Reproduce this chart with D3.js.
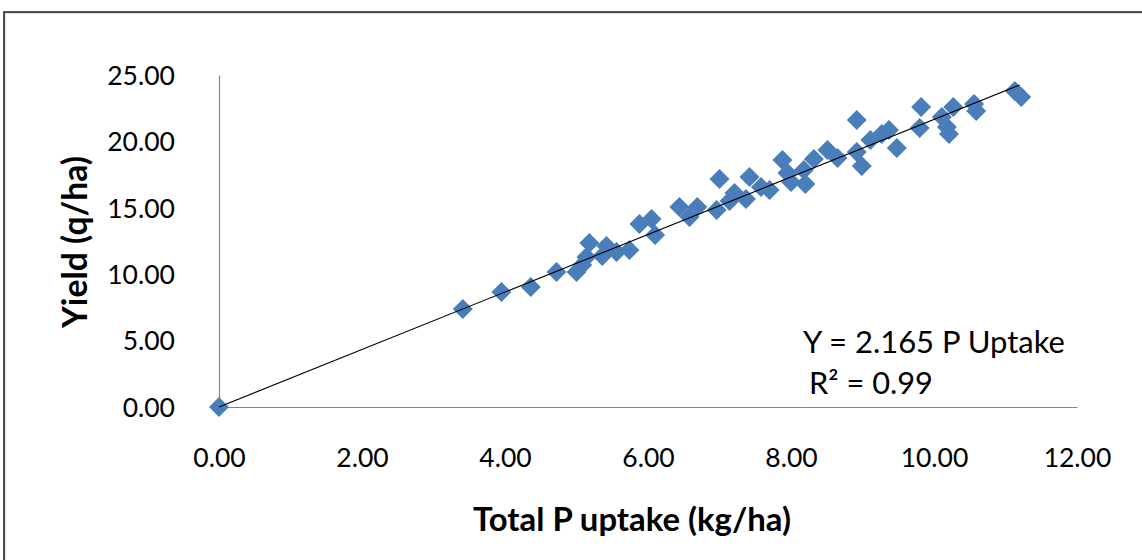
<!DOCTYPE html>
<html>
<head>
<meta charset="utf-8">
<script src="https://cdn.jsdelivr.net/npm/d3@7"></script>
<style>
  html, body { margin: 0; padding: 0; background: #fff; }
  svg { display: block; }
  text { font-family: Lato, "Open Sans", sans-serif; fill: #000; }
</style>
</head>
<body>
<svg id="chart" width="1142" height="560"></svg>
<script>
// ---- data ----
const pUptake = [0.00, 3.41, 3.95, 4.36, 4.72, 5.00, 5.08, 5.14, 5.18, 5.36, 5.42, 5.56, 5.74,
  5.88, 6.05, 6.10, 6.44, 6.58, 6.69, 7.00, 6.96, 7.14, 7.21, 7.42, 7.37, 7.58, 7.70, 7.88,
  7.95, 8.00, 8.20, 8.18, 8.32, 8.51, 8.65, 8.92, 8.92, 8.99, 9.11, 9.27, 9.37, 9.48, 9.82,
  9.80, 10.11, 10.18, 10.21, 10.27, 10.56, 10.59, 11.13, 11.22];
const yieldQ = [0.00, 7.38, 8.66, 9.04, 10.17, 10.17, 10.69, 11.30, 12.35, 11.37, 12.12, 11.67, 11.82,
  13.78, 14.16, 12.95, 15.06, 14.31, 15.06, 17.17, 14.83, 15.51, 16.11, 17.32, 15.66, 16.57, 16.34, 18.60,
  17.62, 16.94, 16.79, 17.85, 18.67, 19.35, 18.75, 21.61, 19.20, 18.15, 20.11, 20.56, 20.86, 19.50, 22.59,
  21.01, 21.84, 21.08, 20.56, 22.59, 22.82, 22.29, 23.80, 23.34];
const slope = 2.165;
const trendX = [0, 11.2];
const xTicks = [0, 2, 4, 6, 8, 10, 12];
const yTicks = [0, 5, 10, 15, 20, 25];
const xTitle = "Total P uptake (kg/ha)";
const yTitle = "Yield (q/ha)";
const eqLine1 = "Y = 2.165 P Uptake";
const eqLine2 = "R² = 0.99";

// ---- layout ----
const svg = d3.select("#chart");
const x = d3.scaleLinear().domain([0, 12]).range([219, 1077]);
const y = d3.scaleLinear().domain([0, 25]).range([407, 75]);

// outer frame
svg.append("rect").attr("x", 5).attr("y", 13).attr("width", 1160).attr("height", 580)
  .attr("fill", "none").attr("stroke", "#c8c8c8").attr("stroke-width", 1);
svg.append("rect").attr("x", 4).attr("y", 12).attr("width", 1160).attr("height", 580)
  .attr("fill", "none").attr("stroke", "#1a1a1a").attr("stroke-width", 1.5);

// axes
const xAxis = d3.axisBottom(x).tickValues(xTicks).tickSize(0).tickPadding(60)
  .tickFormat(d3.format(".2f"));
const yAxis = d3.axisLeft(y).tickValues(yTicks).tickSize(0).tickPadding(44)
  .tickFormat(d3.format(".2f"));

const gx = svg.append("g").attr("transform", `translate(0,${y(0)})`).call(xAxis);
const gy = svg.append("g").attr("transform", `translate(${x(0)},0)`).call(yAxis);
[gx, gy].forEach(g => {
  g.select(".domain").attr("stroke", "#868686").attr("stroke-width", 1.2);
  g.selectAll("text").attr("font-family", "Lato, 'Open Sans', sans-serif")
    .attr("font-size", 26.5).attr("fill", "#1a1a1a");
});
gx.selectAll("text").attr("dy", "0");
gy.selectAll("text").attr("dy", "0.35em");

// points
const pts = pUptake.map((v, i) => ({ x: v, y: yieldQ[i] }));
const sym = d3.symbol().type(d3.symbolDiamond2).size(255);
svg.append("g").selectAll("path").data(pts).join("path")
  .attr("d", sym)
  .attr("transform", d => `translate(${x(d.x)},${y(d.y)})`)
  .attr("fill", "#4a7ebb");

// trend line (drawn on top of the points, as in the reference)
svg.append("line")
  .attr("x1", x(trendX[0])).attr("y1", y(slope * trendX[0]))
  .attr("x2", x(trendX[1])).attr("y2", y(slope * trendX[1]))
  .attr("stroke", "#000").attr("stroke-width", 1.1);

function fit(sel, w) {
  const len = sel.node().getComputedTextLength();
  const fs = parseFloat(sel.attr("font-size"));
  sel.attr("font-size", fs * w / len);
}

// axis titles
const xt = svg.append("text").attr("x", 632).attr("y", 531)
  .attr("text-anchor", "middle").attr("font-weight", "bold").attr("font-size", 28)
  .attr("fill", "#1a1a1a").text(xTitle);
fit(xt, 318);

const yt = svg.append("text").attr("transform", "translate(87,242) rotate(-90)")
  .attr("text-anchor", "middle").attr("font-weight", "bold").attr("font-size", 28)
  .attr("fill", "#1a1a1a").text(yTitle);
fit(yt, 172);

// equation
const e1 = svg.append("text").attr("x", 803).attr("y", 353).attr("font-size", 26)
  .attr("fill", "#1a1a1a").text(eqLine1);
fit(e1, 262);
const e2 = svg.append("text").attr("x", 809).attr("y", 394).attr("font-size", 26)
  .attr("fill", "#1a1a1a").text(eqLine2);
fit(e2, 124);
</script>
</body>
</html>
